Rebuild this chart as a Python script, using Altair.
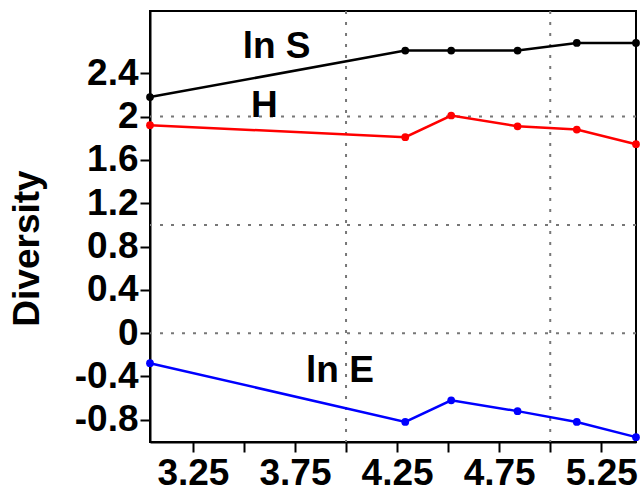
import altair as alt
import pandas as pd

# ---- data ----
x_vals = [3.04, 4.29, 4.515, 4.84, 5.13, 5.42]
ln_s = [2.18, 2.61, 2.61, 2.61, 2.68, 2.68]
h_vals = [1.92, 1.81, 2.01, 1.91, 1.88, 1.745]
ln_e = [-0.277, -0.82, -0.62, -0.72, -0.82, -0.96]
series_names = ["ln S", "H", "ln E"]
series_colors = ["#000000", "#ff0000", "#0000ff"]
label_x = [3.66, 3.60, 3.97]
label_y = [2.64, 2.10, -0.35]
x_ticks = [3.25, 3.5, 3.75, 4.0, 4.25, 4.5, 4.75, 5.0, 5.25]
x_labeled = [3.25, 3.75, 4.25, 4.75, 5.25]
y_ticks = [-0.8, -0.4, 0, 0.4, 0.8, 1.2, 1.6, 2, 2.4]
x_grid = [4.0, 5.0]
y_grid = [0, 1, 2]

rows = []
for name, vals in zip(series_names, [ln_s, h_vals, ln_e]):
    for i, (xv, yv) in enumerate(zip(x_vals, vals)):
        rows.append({"series": name, "x": xv, "y": yv, "order": i})
df = pd.DataFrame(rows)
labels_df = pd.DataFrame({"series": series_names, "x": label_x, "y": label_y})
xgrid_df = pd.DataFrame({"x": x_grid})
ygrid_df = pd.DataFrame({"y": y_grid})

FONT = "Liberation Sans"
xscale = alt.Scale(domain=[3.04, 5.42], nice=False, zero=False)
yscale = alt.Scale(domain=[-1.005, 2.975], nice=False, zero=False)
cscale = alt.Scale(domain=series_names, range=series_colors)

labeled_str = "[" + ",".join(str(v) for v in x_labeled) + "]"

x_axis = alt.Axis(
    values=x_ticks,
    labelExpr=f"indexof({labeled_str}, datum.value) >= 0 ? datum.value + '' : ''",
    grid=False, domainColor="black", domainWidth=2,
    tickColor="black", tickWidth=2, tickSize=10,
    labelFont=FONT, labelFontWeight="bold", labelFontSize=37, labelColor="black",
    labelPadding=3, labelFlush=False, labelOverlap=False, title=None,
)
y_axis = alt.Axis(
    values=y_ticks,
    labelExpr="datum.value + ''",
    grid=False, domainColor="black", domainWidth=2,
    tickColor="black", tickWidth=2, tickSize=10,
    labelFont=FONT, labelFontWeight="bold", labelFontSize=37, labelColor="black",
    labelPadding=2, labelFlush=False, labelOverlap=False,
    title="Diversity", titleFont=FONT, titleFontWeight="bold", titleFontSize=37,
    titleColor="black", titleAngle=-90, titleX=-123, titleY=237,
    titleAlign="center", titleBaseline="middle",
)

X = alt.X("x:Q", scale=xscale, axis=x_axis)
Y = alt.Y("y:Q", scale=yscale, axis=y_axis)

vgrid = alt.Chart(xgrid_df).mark_rule(color="#777777", strokeWidth=2, strokeDash=[3, 8]).encode(x=X)
hgrid = alt.Chart(ygrid_df).mark_rule(color="#777777", strokeWidth=2, strokeDash=[3, 8]).encode(y=Y)

lines = alt.Chart(df).mark_line(strokeWidth=2.5).encode(
    x=X, y=Y,
    color=alt.Color("series:N", scale=cscale, legend=None),
    order="order:Q",
)
points = alt.Chart(df).mark_circle(size=60, opacity=1).encode(
    x=X, y=Y,
    color=alt.Color("series:N", scale=cscale, legend=None),
)
texts = alt.Chart(labels_df).mark_text(
    font=FONT, fontWeight="bold", fontSize=37, color="black",
    align="center", baseline="middle",
).encode(x=X, y=Y, text="series:N")

chart = alt.layer(vgrid, hgrid, lines, points, texts).properties(
    width=486, height=431,
    autosize=alt.AutoSizeParams(type="none"),
    padding={"left": 150, "top": 11, "right": 5, "bottom": 50},
).configure_view(stroke="black", strokeWidth=2)

chart.save("out.html", embed_options={"renderer": "svg", "actions": False})
